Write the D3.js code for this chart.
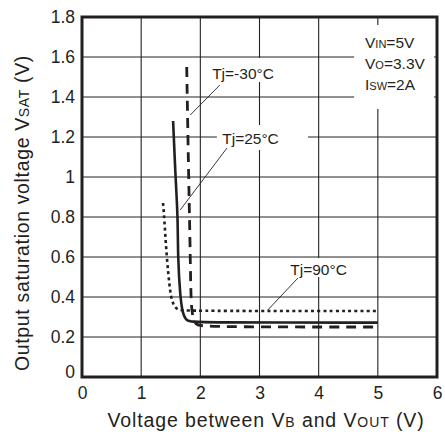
<!DOCTYPE html>
<html><head><meta charset="utf-8">
<script src="https://cdn.jsdelivr.net/npm/d3@7"></script>
<style>body{margin:0;background:#fff}svg{display:block}text{font-family:"Liberation Sans",Arial,sans-serif;fill:#231f20}</style>
</head><body>
<script>
const xTicks = [0,1,2,3,4,5,6];
const yTicks = [0,0.2,0.4,0.6,0.8,1,1.2,1.4,1.6,1.8];
const yTickLabels = ["0","0.2","0.4","0.6","0.8","1","1.2","1.4","1.6","1.8"];

// Tj = -30 C (dashed)
const tjMinus30 = [[1.77,1.55],[1.79,1.2],[1.81,0.9],[1.83,0.6],[1.84,0.4],[1.86,0.31],[1.92,0.262],[2.0,0.25],[5.0,0.25]];
// Tj = 25 C (solid)
const tj25 = [[1.54,1.28],[1.58,1.0],[1.62,0.8],[1.62,0.6],[1.66,0.4],[1.70,0.32],[1.76,0.28],[1.9,0.272],[5.0,0.272]];
// Tj = 90 C (dotted)
const tj90 = [[1.37,0.87],[1.39,0.8],[1.43,0.6],[1.49,0.42],[1.53,0.37],[1.60,0.335],[1.75,0.33],[5.0,0.33]];

const annotations = [
  {label:"Tj=-30°C", tx:2.20, ty:1.49, from:[2.33,1.46], to:[1.83,1.31], box:[2.16,1.595,3.36,1.475]},
  {label:"Tj=25°C",  tx:2.37, ty:1.165, from:[2.45,1.145], to:[1.66,0.835], box:[2.28,1.26,3.82,1.135]},
  {label:"Tj=90°C",  tx:3.52, ty:0.51, from:[3.65,0.495], to:[3.14,0.335], box:[3.45,0.595,4.6,0.5]}
];
const conditions = [["V","IN","=5V"],["V","O","=3.3V"],["I","SW","=2A"]];

const W=445,H=436;
const svg=d3.select("body").append("svg").attr("width",W).attr("height",H);
const x=d3.scaleLinear().domain([0,6]).range([82,437]);
const y=d3.scaleLinear().domain([0,1.8]).range([377,17]);

// grid
svg.append("g").selectAll("line").data(xTicks.slice(1,-1)).join("line")
  .attr("x1",d=>x(d)).attr("x2",d=>x(d)).attr("y1",y(0)).attr("y2",y(1.8))
  .attr("stroke","#222").attr("stroke-width",1.1);
svg.append("g").selectAll("line").data(yTicks.slice(1,-1)).join("line")
  .attr("y1",d=>y(d)).attr("y2",d=>y(d)).attr("x1",x(0)).attr("x2",x(6))
  .attr("stroke","#222").attr("stroke-width",1.1);

// white label boxes
svg.append("g").selectAll("rect").data(annotations).join("rect")
  .attr("x",d=>x(d.box[0])).attr("y",d=>y(d.box[1]))
  .attr("width",d=>x(d.box[2])-x(d.box[0])).attr("height",d=>y(d.box[3])-y(d.box[1]))
  .attr("fill","#fff");
svg.append("rect").attr("x",x(4.6)).attr("y",y(1.76)).attr("width",x(5.95)-x(4.6)).attr("height",y(1.34)-y(1.76)).attr("fill","#fff");

// frame
svg.append("rect").attr("x",x(0)).attr("y",y(1.8)).attr("width",x(6)-x(0)).attr("height",y(0)-y(1.8))
  .attr("fill","none").attr("stroke","#231f20").attr("stroke-width",3);

// axis ticks labels
const gx=svg.append("g").attr("transform",`translate(0,${y(0)})`)
  .call(d3.axisBottom(x).tickValues(xTicks).tickSize(0).tickPadding(5).tickFormat(d3.format("d")));
gx.select(".domain").remove();
gx.selectAll("text").attr("font-size",17.5).attr("font-family","Liberation Sans, Arial, sans-serif").attr("fill","#231f20").attr("dy","0.95em");
const gy=svg.append("g").attr("transform",`translate(${x(0)},0)`)
  .call(d3.axisLeft(y).tickValues(yTicks).tickSize(0).tickPadding(7).tickFormat((d,i)=>yTickLabels[i]));
gy.select(".domain").remove();
gy.selectAll("text").attr("font-size",17.5).attr("font-family","Liberation Sans, Arial, sans-serif").attr("fill","#231f20")
  .attr("dy",d=>d===0?"0.02em":"0.32em");

// curves
const lineH=d3.line().x(d=>x(d[0])).y(d=>y(d[1])).curve(d3.curveBasis);
svg.append("path").datum(tj90).attr("d",lineH).attr("fill","none").attr("stroke","#231f20")
  .attr("stroke-width",2.6).attr("stroke-dasharray","3,3.2");
svg.append("path").datum(tj25).attr("d",lineH).attr("fill","none").attr("stroke","#231f20")
  .attr("stroke-width",2.6);
svg.append("path").datum(tjMinus30).attr("d",lineH).attr("fill","none").attr("stroke","#231f20")
  .attr("stroke-width",2.8).attr("stroke-dasharray","10,7");

// annotations
const ga=svg.append("g");
ga.selectAll("line").data(annotations).join("line")
  .attr("x1",d=>x(d.from[0])).attr("y1",d=>y(d.from[1])).attr("x2",d=>x(d.to[0])).attr("y2",d=>y(d.to[1]))
  .attr("stroke","#231f20").attr("stroke-width",0.9);
ga.selectAll("text").data(annotations).join("text")
  .attr("x",d=>x(d.tx)).attr("y",d=>y(d.ty)).attr("font-size",15.5).text(d=>d.label);

// conditions
const gc=svg.append("g");
conditions.forEach((c,i)=>{
  const t=gc.append("text").attr("x",365).attr("y",48+i*21).attr("font-size",15.5);
  t.append("tspan").text(c[0]);
  t.append("tspan").attr("font-size",11).text(c[1]);
  t.append("tspan").text(c[2]);
});

// axis titles
const xt=svg.append("text").attr("x",266).attr("y",427).attr("text-anchor","middle").attr("font-size",19.5).attr("letter-spacing",0.9);
xt.append("tspan").text("Voltage between V");
xt.append("tspan").attr("font-size",14).text("B");
xt.append("tspan").text(" and V");
xt.append("tspan").attr("font-size",14).text("OUT");
xt.append("tspan").text(" (V)");
const yt=svg.append("text").attr("transform","translate(29,213) rotate(-90)").attr("text-anchor","middle").attr("font-size",19.5).attr("letter-spacing",0.65);
yt.append("tspan").text("Output saturation voltage V");
yt.append("tspan").attr("font-size",14).text("SAT");
yt.append("tspan").text(" (V)");
</script>
</body></html>
